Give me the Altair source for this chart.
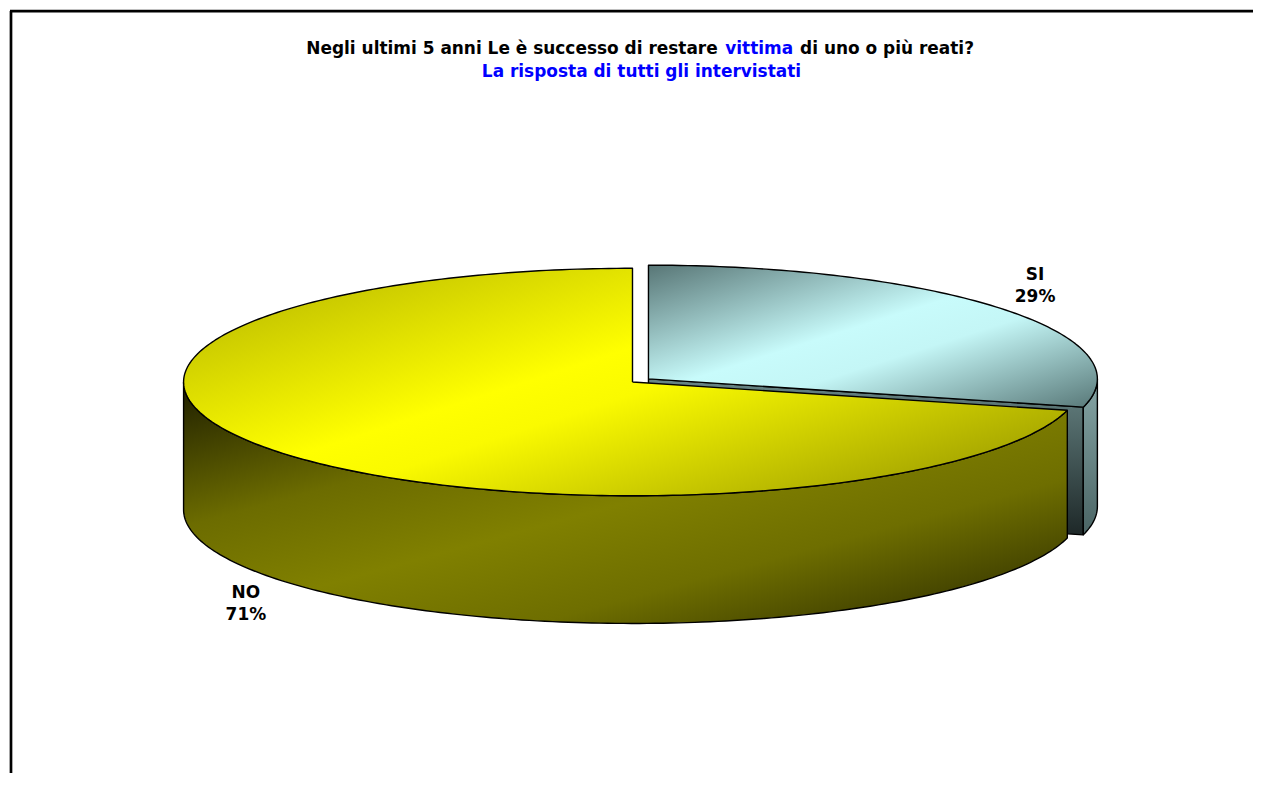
import numpy as np
import pandas as pd
import altair as alt

# ---- data ----
categories = ["SI", "NO"]
values = [29, 71]
pct_labels = ["29%", "71%"]

title_a = "Negli ultimi 5 anni Le è successo di restare"
title_b = "vittima"
title_c = "di uno o più reati?"
title_2 = "La risposta di tutti gli intervistati"

# ---- layout constants (pixels of the plot area) ----
W, H = 1247, 766
CX, CY = 625, 374          # centre of the pie top face
RX, RY = 450, 114          # ellipse radii of the top face
DEPTH = 128                # thickness of the 3-D pie
TILT = RY / RX
D = DEPTH / RX
EXPLODE = {"SI": 0.045, "NO": 0.0}
LX, LY = 1.09, 1.34        # label distance factors
FONT = "DejaVu Sans"

xs = alt.Scale(domain=[-CX / RX, (W - CX) / RX], nice=False, zero=False)
ys = alt.Scale(domain=[-(H - CY) / RX, CY / RX], nice=False, zero=False)


def grad(stops, x1=0, y1=0, x2=1, y2=1):
    return alt.LinearGradient(
        gradient="linear",
        stops=[alt.GradientStop(offset=o, color=c) for o, c in stops],
        x1=x1, y1=y1, x2=x2, y2=y2,
    )


GRADS = {
    ("SI", "radial"): grad([(0, "#688686"), (1, "#1e2828")], 0, 0, 0, 1),
    ("SI", "side"): grad([(0, "#86a6a6"), (1, "#4a6464")], 0, 0, 0, 1),
    ("SI", "top"): grad([(0, "#587676"), (0.45, "#c8fbfb"), (0.6, "#c4f6f6"),
                         (1, "#587878")]),
    ("NO", "radial"): grad([(0, "#808000"), (1, "#262600")], 0, 0, 0, 1),
    ("NO", "side"): grad([(0, "#1e1e00"), (0.3, "#6c6c00"), (0.5, "#808000"),
                          (0.7, "#6e6e00"), (1, "#262600")]),
    ("NO", "top"): grad([(0, "#b0b000"), (0.48, "#ffff00"), (0.58, "#fafa00"),
                         (1, "#a0a000")], 0, 0, 1, 0.8),
}


def arc(a, b, ox, oy, drop=0.0, n=None):
    if n is None:
        n = max(3, int(abs(b - a) * 180 / np.pi))
    t = np.linspace(a, b, n)
    return list(zip(ox + np.sin(t), oy + np.cos(t) * TILT - drop))


def frame(pts):
    pts = pts + [pts[0]]
    return pd.DataFrame({"x": [p[0] for p in pts], "y": [p[1] for p in pts],
                         "i": range(len(pts))})


def poly_layer(df, fill):
    return alt.Chart(df).mark_line(
        fill=fill, stroke="black", strokeWidth=1.4, strokeJoin="round"
    ).encode(
        x=alt.X("x:Q", scale=xs, axis=None),
        y=alt.Y("y:Q", scale=ys, axis=None),
        order="i:Q",
    )


total = float(sum(values))
start = 0.0
pieces = []
label_rows = []
for cat, val, lab in zip(categories, values, pct_labels):
    a0 = 2 * np.pi * start / total
    a1 = 2 * np.pi * (start + val) / total
    mid = (a0 + a1) / 2
    e = EXPLODE[cat]
    ox, oy = e * np.sin(mid), e * np.cos(mid) * TILT
    layers = []
    # radial walls that face the viewer
    for ang, normal in ((a0, a0 - np.pi / 2), (a1, a1 + np.pi / 2)):
        if np.cos(normal) < -1e-6:
            ex, ey = ox + np.sin(ang), oy + np.cos(ang) * TILT
            pts = [(ox, oy), (ex, ey), (ex, ey - D), (ox, oy - D)]
            layers.append(poly_layer(frame(pts), GRADS[(cat, "radial")]))
    # outer (front) wall
    lo, hi = max(a0, np.pi / 2), min(a1, 3 * np.pi / 2)
    if lo < hi:
        pts = arc(lo, hi, ox, oy) + arc(hi, lo, ox, oy, drop=D)
        layers.append(poly_layer(frame(pts), GRADS[(cat, "side")]))
    # top face
    pts = [(ox, oy)] + arc(a0, a1, ox, oy) + [(ox, oy)]
    layers.append(poly_layer(frame(pts), GRADS[(cat, "top")]))
    pieces.extend(layers)
    lx = ox + LX * np.sin(mid)
    ly = oy + LY * np.cos(mid) * TILT - (D if np.cos(mid) < 0 else 0.0)
    label_rows.append({"cat": cat, "pct": lab, "x": lx, "y": ly})
    start += val

labels_df = pd.DataFrame(label_rows)
lab_base = alt.Chart(labels_df).encode(
    x=alt.X("x:Q", scale=xs, axis=None), y=alt.Y("y:Q", scale=ys, axis=None)
)
name_text = lab_base.mark_text(font=FONT, fontSize=17, fontWeight="bold",
                               color="black", baseline="alphabetic",
                               align="center", dy=-5).encode(text="cat:N")
pct_text = lab_base.mark_text(font=FONT, fontSize=17, fontWeight="bold",
                              color="black", baseline="alphabetic",
                              align="center", dy=17).encode(text="pct:N")

# ---- title (two lines, one word in blue) ----
tdf = pd.DataFrame({"t": [title_a, title_b, title_c, title_2],
                    "c": ["black", "blue", "black", "blue"]})


def title_piece(idx, x, y, align):
    return alt.Chart(tdf.iloc[[idx]]).mark_text(
        font=FONT, fontSize=17, fontWeight="bold", baseline="alphabetic",
        align=align, color=tdf["c"].iloc[idx]
    ).encode(text="t:N", x=alt.value(x), y=alt.value(y))


t1 = title_piece(0, 298, 45, "left")
t2 = title_piece(1, 718, 45, "left")
t3 = title_piece(2, 793, 45, "left")
t4 = title_piece(3, 634, 68, "center")

# ---- chart-area frame (left and top edges) ----
one = pd.DataFrame({"k": [0]})
left_edge = alt.Chart(one).mark_rule(color="black", strokeWidth=2.7).encode(
    x=alt.value(2), y=alt.value(2), y2=alt.value(H))
top_edge = alt.Chart(one).mark_rule(color="black", strokeWidth=2.7).encode(
    x=alt.value(1), x2=alt.value(W), y=alt.value(2.3))

chart = alt.layer(
    *pieces, name_text, pct_text, t1, t2, t3, t4, left_edge, top_edge
).properties(width=W, height=H, padding=0).configure_view(stroke=None)

chart.save("out.html", embed_options={"renderer": "svg", "actions": False})
